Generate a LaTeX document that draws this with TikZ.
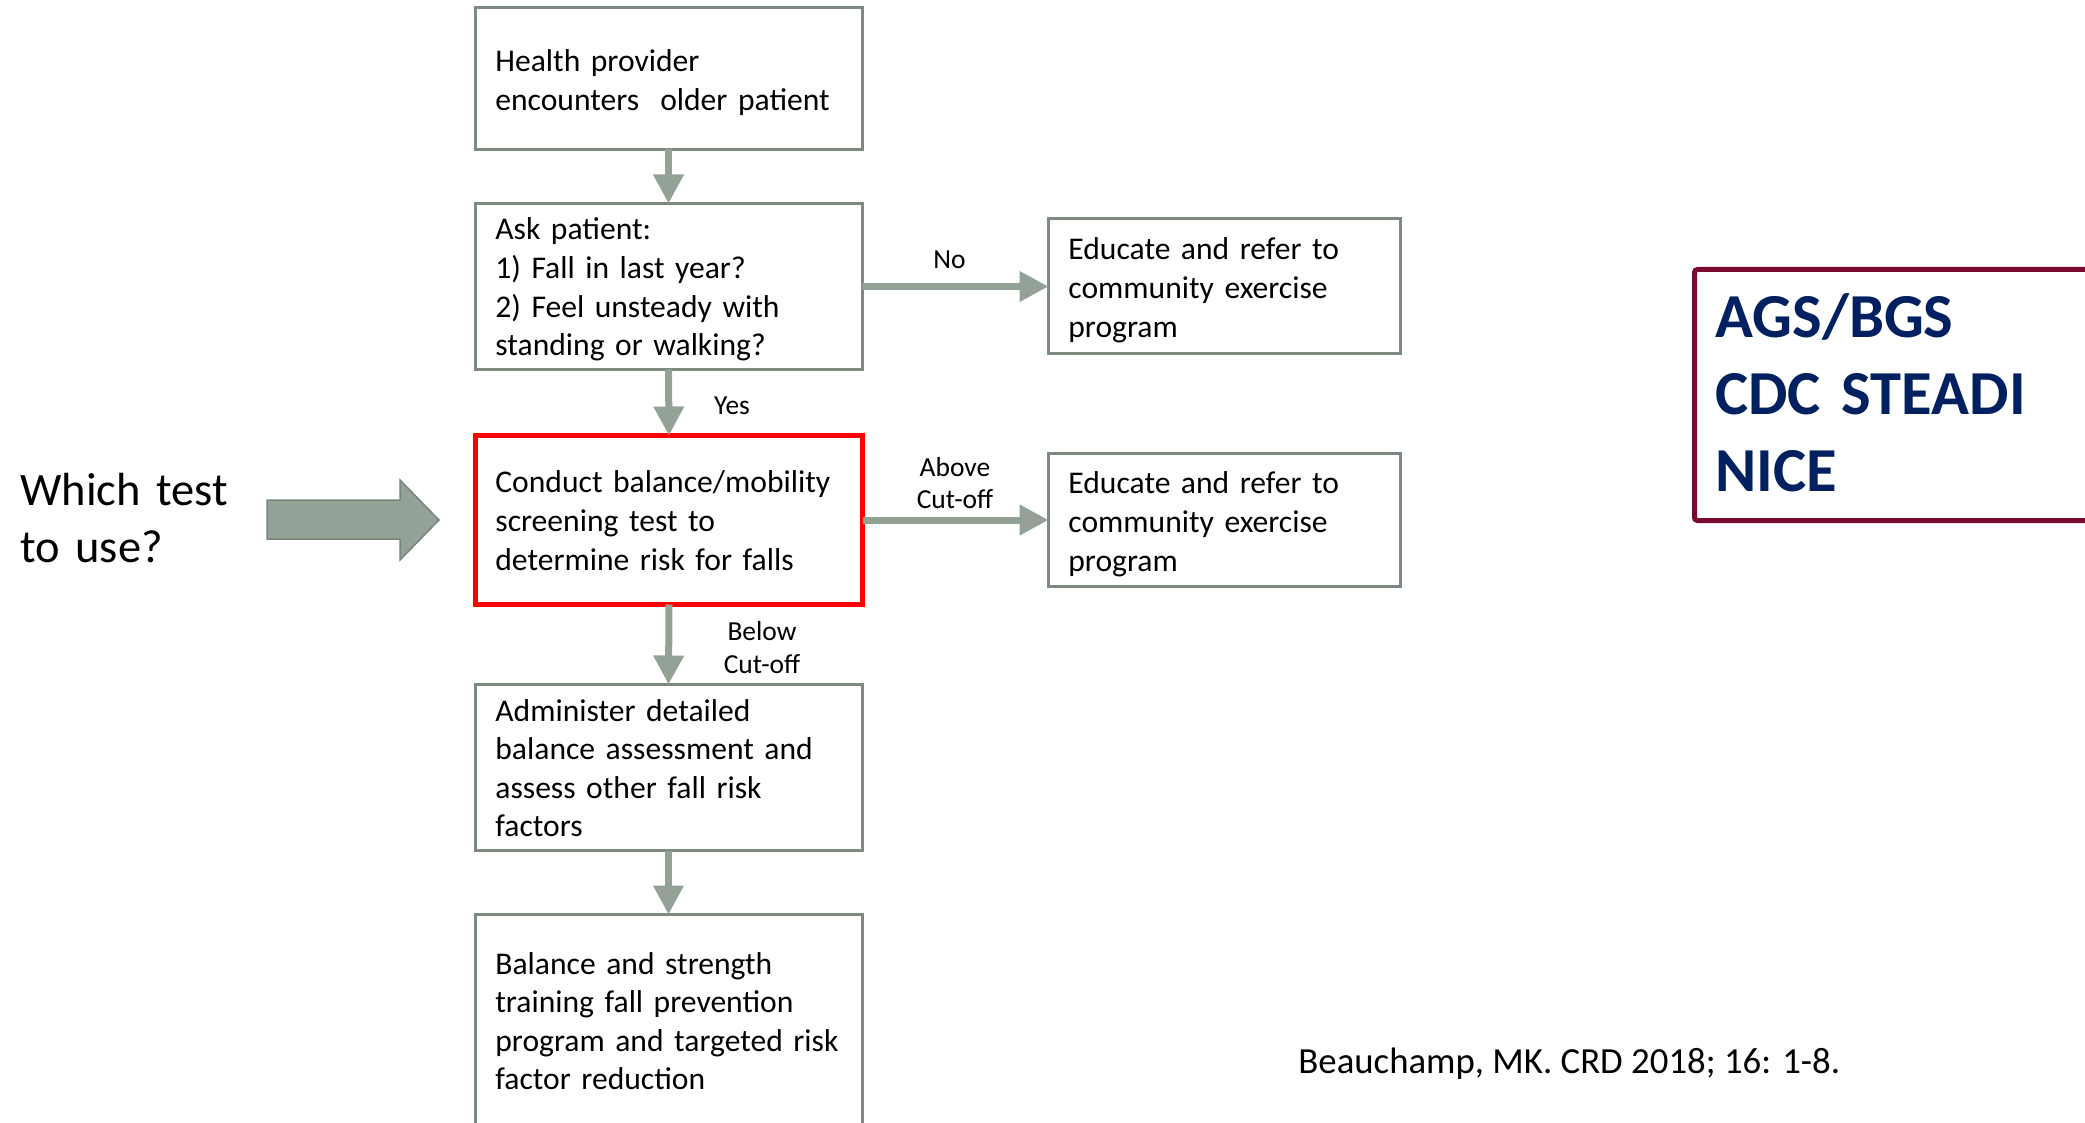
\documentclass[tikz,border=0pt]{standalone}
\usepackage{fontspec}
\setmainfont{Carlito}
\usetikzlibrary{arrows.meta,fit}
\definecolor{boxgray}{RGB}{125,138,128}
\definecolor{arrgray}{RGB}{148,161,151}
\definecolor{arrdark}{RGB}{118,133,122}
\definecolor{maroonc}{RGB}{122,10,50}
\definecolor{navyc}{RGB}{0,32,96}
\begin{document}
\begin{tikzpicture}[x=0.5pt,y=-0.5pt,
  box/.style={draw=boxgray, line width=1.5pt, inner sep=0pt, outer sep=0pt},
  redbox/.style={draw=red, line width=2.5pt, inner sep=0pt, outer sep=0pt},
  guidebox/.style={draw=maroonc, line width=2.5pt, inner sep=0pt, outer sep=0pt, rounded corners=1.5pt},
  boxtext/.style={anchor=base west, inner sep=0pt, text width=185pt, align=left, font=\fontsize{15.8}{19.3}\selectfont},
  lbl/.style={anchor=base, inner sep=0pt, text width=60pt, align=center, font=\fontsize{13.75}{16.5}\selectfont},
  flow/.style={color=arrgray, line width=3.5pt, arrows={-Triangle[width=14.5pt,length=14.5pt]}},
  bigarrow/.style={fill=arrgray, draw=arrdark, line width=0.75pt}
]
\useasboundingbox (0,0) rectangle (2085,1123);
\clip (0,0) rectangle (2085,1123);

% boxes
\node[box, fit={(475,7.5) (862,149.5)}] (b1) {};
\node[box, fit={(475,203.5) (862,369.5)}] (b2) {};
\node[redbox, fit={(475.5,435.5) (862.5,604.5)}] (b3) {};
\node[box, fit={(475,684.5) (862,850.5)}] (b4) {};
\node[box, fit={(475,914.5) (862,1140)}] (b5) {};
\node[box, fit={(1048.5,218.5) (1400.5,353.5)}] (e1) {};
\node[box, fit={(1048.5,453.5) (1400.5,586.5)}] (e2) {};
\node[guidebox, fit={(1694.5,269.5) (2110,520.5)}] (g) {};

% box texts
\node[boxtext] (t1) at (495,72) {Health provider\\encounters\ \ older patient};
\node[boxtext] (t2) at (495,240) {Ask patient:\\1) Fall in last year?\\2) Feel unsteady with\\standing or walking?};
\node[boxtext] (t3) at (495,493) {Conduct balance/mobility\\screening test to\\determine risk for falls};
\node[boxtext] (t4) at (495,721) {Administer detailed\\balance assessment and\\assess other fall risk\\factors};
\node[boxtext] (t5) at (495,974) {Balance and strength\\training fall prevention\\program and targeted risk\\factor reduction};
\node[boxtext] (te1) at (1068,260) {Educate and refer to\\community exercise\\program};
\node[boxtext] (te2) at (1068,494) {Educate and refer to\\community exercise\\program};

% connectors
\draw[flow] (b1.south) -- (b2.north);
\draw[flow] (b2.south) -- (b3.north);
\draw[flow] (b3.south) -- (b4.north);
\draw[flow] (b4.south) -- (b5.north);
\draw[flow] (b2.east) -- (b2.east -| e1.west);
\draw[flow] (b3.east) -- (b3.east -| e2.west);

% connector labels
\node[lbl] (lno) at (949.5,269) {No};
\node[lbl] (lyes) at (732,415) {Yes};
\node[lbl] (labove) at (955,476) {Above\\Cut-off};
\node[lbl] (lbelow) at (762,640) {Below\\Cut-off};

% question and big arrow
\node[anchor=base west, inner sep=0pt, text width=160pt, align=left, font=\fontsize{23.25}{28.5}\selectfont] (q) at (20,505) {Which test\\to use?};
\path[bigarrow] (267,500) -- (400,500) -- (400,480) -- (439,520) -- (400,560) -- (400,539) -- (267,539) -- cycle;

% guidelines
\node[anchor=base west, inner sep=0pt, text width=190pt, align=left, text=navyc, font=\bfseries\fontsize{31.3}{38.5}\selectfont] (gt) at (1715,338) {AGS/BGS\\CDC STEADI\\NICE};

% citation
\node[anchor=base west, inner sep=0pt, font=\fontsize{18.4}{22}\selectfont] (cit) at (1298,1073) {Beauchamp, MK. CRD 2018; 16: 1-8.};
\end{tikzpicture}
\end{document}
